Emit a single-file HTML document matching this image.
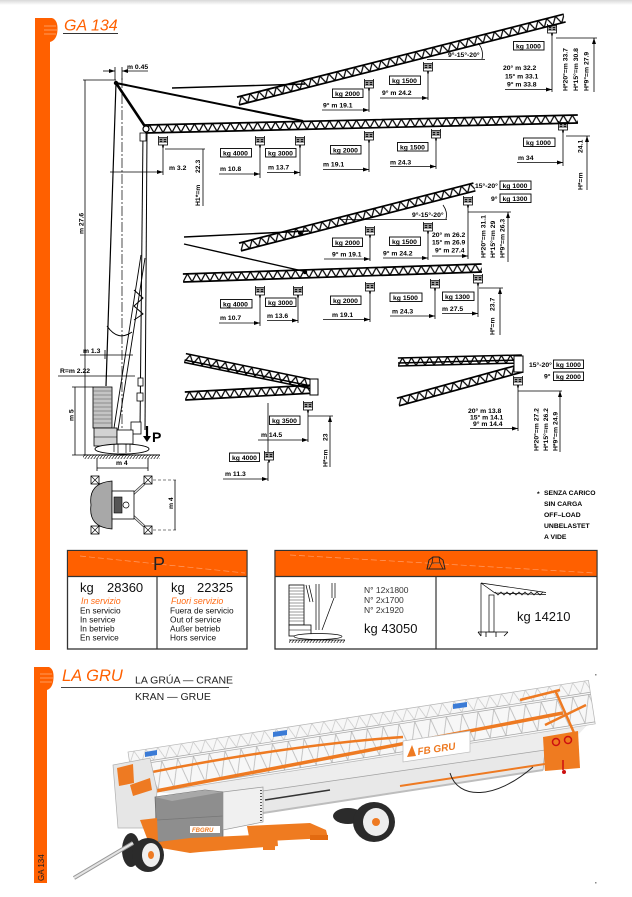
<!DOCTYPE html>
<html><head><meta charset="utf-8">
<style>
html,body{margin:0;padding:0;background:#fff;}
svg{display:block;font-family:"Liberation Sans",Arial,sans-serif;white-space:pre;}
.l{font-size:6.8px;font-weight:bold;fill:#000;}
.d{stroke:#000;stroke-width:0.8;fill:none;}
.t{font-size:8.3px;fill:#111;}
</style></head><body>
<svg width="632" height="897" viewBox="0 0 632 897" xmlns="http://www.w3.org/2000/svg" xml:space="preserve">
<defs>
 <linearGradient id="tg" x1="0" y1="0" x2="0" y2="1"><stop offset="0" stop-color="#d8d8d8"/><stop offset="1" stop-color="#fff"/></linearGradient>
 <pattern id="zz" width="9" height="8" y="-4" patternUnits="userSpaceOnUse"><path d="M0,8 L4.5,0 L9,8" fill="none" stroke="#000" stroke-width="1.25"/></pattern>
 <pattern id="lat1" width="12" height="12" patternUnits="userSpaceOnUse"><path d="M0,12 L6,0 L12,12" stroke="#c4c4c4" stroke-width="0.7" fill="none"/></pattern>
 <pattern id="lat" width="16" height="28" y="14" patternUnits="userSpaceOnUse"><path d="M0,0 L8,28 L16,0" stroke="#b8b8b8" stroke-width="0.8" fill="none"/></pattern>
 <pattern id="hatch" width="3" height="4" patternUnits="userSpaceOnUse"><path d="M0,4 L3,0" stroke="#000" stroke-width="0.6"/></pattern>
 <marker id="ar" viewBox="0 0 6 4" refX="6" refY="2" markerWidth="6" markerHeight="4" orient="auto" markerUnits="userSpaceOnUse"><path d="M0,0 L6,2 L0,4 Z" fill="#000"/></marker>
 <g id="hk" stroke="#000" stroke-width="0.8" fill="none">
  <path d="M-4.5,0V3M4.5,0V3M-4.5,1.5H4.5"/>
  <rect x="-4.5" y="3" width="9" height="6" fill="#fff"/>
  <path d="M-4.5,6H4.5"/>
  <circle cx="-2" cy="4.5" r="1"/><circle cx="2" cy="4.5" r="1"/>
  <path d="M0,9V11.5" stroke-width="1.6"/>
 </g>
</defs>

<!-- top shadow -->
<rect x="0" y="0" width="632" height="5" fill="url(#tg)"/>

<!-- Orange side bar 1 -->
<rect x="35" y="18" width="15" height="632" fill="#ff6000"/>
<path d="M50,18 L52,18 Q58,20 57.5,30 Q57,40 50,42 Z" fill="#ff6000"/>
<path d="M44,26 H56 M44,30 H57 M44,34 H56" stroke="#ff9a5a" stroke-width="1"/>
<text x="64" y="30.5" font-size="16" font-style="italic" fill="#ff6000">GA 134</text>
<line x1="63" y1="33.5" x2="118" y2="33.5" stroke="#333" stroke-width="1"/>

<!-- ================= DIAGRAM 1 ================= -->
<line x1="116" y1="83" x2="106" y2="386" stroke="#000" stroke-width="1.2"/>
<line x1="122" y1="78" x2="122" y2="456" stroke="#000" stroke-width="0.7" stroke-dasharray="10,2,2,2"/>
<line x1="143" y1="133" x2="140" y2="430" stroke="#000" stroke-width="1"/>
<line x1="147" y1="133" x2="145" y2="430" stroke="#000" stroke-width="1"/>
<line x1="141" y1="255" x2="114" y2="428" stroke="#000" stroke-width="0.9"/>
<line x1="145" y1="258" x2="118" y2="430" stroke="#000" stroke-width="0.9"/>
<path d="M107,326 Q118,342 132,332" stroke="#000" stroke-width="1" fill="none"/>
<path d="M134,290 L143,298 L134,306 L143,314 L134,320" stroke="#000" stroke-width="1" fill="none"/>
<rect x="138" y="378" width="5" height="8" fill="#fff" stroke="#000" stroke-width="0.8"/>
<rect x="137" y="393" width="6" height="8" fill="#fff" stroke="#000" stroke-width="0.8"/>
<rect x="131" y="422" width="10" height="12" fill="#fff" stroke="#000" stroke-width="0.8"/>
<rect x="93" y="387" width="19" height="41" fill="#c4c4c4" stroke="#000" stroke-width="0.8"/>
<path d="M93,391H112M93,395H112M93,399H112M93,403H112M93,407H112M93,411H112M93,415H112M93,419H112M93,423H112" stroke="#555" stroke-width="0.6"/>
<rect x="94" y="428" width="23" height="18" fill="#d2d2d2" stroke="#000" stroke-width="0.8"/>
<line x1="94" y1="437" x2="117" y2="437" stroke="#000" stroke-width="0.6"/>
<rect x="117" y="430" width="16" height="14" fill="#fff" stroke="#000" stroke-width="0.8"/>
<ellipse cx="122" cy="449" rx="27" ry="5" fill="#fff" stroke="#000" stroke-width="0.9"/>
<path d="M114,444V452M118,444V453M126,444V453M130,444V452" stroke="#000" stroke-width="0.7"/>
<rect x="83" y="455" width="77" height="4" fill="url(#hatch)"/>
<line x1="83" y1="455" x2="160" y2="455" stroke="#000" stroke-width="1"/>
<path d="M147,426V437" stroke="#000" stroke-width="2.2"/>
<path d="M143,436 L147,442 L151,436 Z" fill="#000"/>
<text x="152" y="442" font-size="14" font-weight="bold" fill="#000">P</text>

<path d="M115,67V80M122,67V80" class="d"/>
<line x1="103" y1="71" x2="115" y2="71" class="d" marker-end="url(#ar)"/>
<line x1="148" y1="71" x2="122" y2="71" class="d" marker-end="url(#ar)"/>
<text class="l" x="127" y="69">m 0.45</text>
<line x1="83" y1="80" x2="116" y2="80" class="d"/>
<line x1="85" y1="80" x2="85" y2="455" class="d"/>
<text class="l" transform="translate(83.5,234) rotate(-90)">m 27.6</text>
<path d="M105,350V359" class="d"/>
<line x1="80" y1="355" x2="133" y2="355" class="d"/>
<text class="l" x="83" y="353">m 1.3</text>
<line x1="58" y1="376" x2="135" y2="376" class="d"/>
<text class="l" x="60" y="373">R=m  2.22</text>
<line x1="75" y1="387" x2="75" y2="455" class="d"/>
<path d="M72,387H93M72,455H83" class="d"/>
<text class="l" transform="translate(73.5,421) rotate(-90)">m 5</text>
<path d="M97,458V471M148,458V471" class="d"/>
<line x1="97" y1="468" x2="148" y2="468" class="d"/>
<text class="l" x="116" y="465">m 4</text>

<!-- plan view -->
<path d="M99,484 L112,492 M144,484 L132,495 M99,526 L112,520 M144,526 L132,515" stroke="#444" stroke-width="2.6"/>
<path d="M99,484 L112,492 M144,484 L132,495 M99,526 L112,520 M144,526 L132,515" stroke="#fff" stroke-width="1"/>
<path d="M112,481 Q88,483 91,505 Q88,527 112,529 Z" fill="#a8a8a8" stroke="#000" stroke-width="0.8"/>
<rect x="112" y="491" width="22" height="28" fill="#fff" stroke="#000" stroke-width="0.8"/>
<rect x="114" y="497" width="8" height="16" fill="#555" stroke="#000" stroke-width="0.6"/>
<circle cx="126" cy="505" r="3" fill="none" stroke="#000" stroke-width="0.7"/>
<g fill="#fff" stroke="#000" stroke-width="0.8">
 <rect x="91" y="476" width="8" height="8"/><rect x="144" y="476" width="8" height="8"/>
 <rect x="91" y="526" width="8" height="8"/><rect x="144" y="526" width="8" height="8"/>
</g>
<path d="M91,476l8,8m0,-8l-8,8M144,476l8,8m0,-8l-8,8M91,526l8,8m0,-8l-8,8M144,526l8,8m0,-8l-8,8" stroke="#000" stroke-width="0.6"/>
<path d="M153,480H178M153,530H178" stroke="#000" stroke-width="0.6" stroke-dasharray="3,2"/>
<line x1="175" y1="480" x2="175" y2="530" class="d"/>
<text class="l" transform="translate(173,509) rotate(-90)">m 4</text>

<!-- booms diagram 1 -->
<g transform="translate(145,129) rotate(-1.32)"><rect x="0" y="-4" width="433" height="8" fill="url(#zz)"/><path d="M0,-4H433M0,4H433" stroke="#000" stroke-width="1.7"/></g>
<g transform="translate(238,101) rotate(-14.24)"><rect x="0" y="-4" width="337" height="8" fill="url(#zz)"/><path d="M0,-4H337M0,4H337" stroke="#000" stroke-width="1.7"/></g>
<line x1="116" y1="83" x2="303" y2="121" stroke="#000" stroke-width="2"/>
<line x1="172" y1="88" x2="305" y2="84" stroke="#000" stroke-width="1.4"/>
<line x1="116" y1="83" x2="146" y2="128" stroke="#000" stroke-width="2.6"/>
<circle cx="116" cy="83" r="2.2" fill="#000"/>
<circle cx="146" cy="129" r="3" fill="#fff" stroke="#000" stroke-width="1.2"/>
<rect x="140" y="133" width="6" height="8" fill="#fff" stroke="#000" stroke-width="0.8"/>

<use href="#hk" x="163" y="136"/><use href="#hk" x="260" y="136"/><use href="#hk" x="300" y="136"/>
<use href="#hk" x="369" y="131"/><use href="#hk" x="436" y="129"/><use href="#hk" x="563" y="121"/>
<path d="M163,147V175M260,147V178M300,147V176M369,142V172M436,140V169M563,132V166" class="d"/>
<line x1="110" y1="172" x2="163" y2="172" class="d" marker-end="url(#ar)"/>
<line x1="219" y1="174" x2="260" y2="174" class="d" marker-end="url(#ar)"/>
<line x1="267" y1="172.5" x2="300" y2="172.5" class="d" marker-end="url(#ar)"/>
<line x1="323" y1="169.5" x2="369" y2="169.5" class="d" marker-end="url(#ar)"/>
<line x1="390" y1="166.5" x2="436" y2="166.5" class="d" marker-end="url(#ar)"/>
<line x1="517" y1="162.5" x2="563" y2="162.5" class="d" marker-end="url(#ar)"/>
<text class="l" x="169" y="170">m 3.2</text>
<text class="l" x="220" y="171">m  10.8</text>
<text class="l" x="268" y="169.5">m  13.7</text>
<text class="l" x="323" y="166.5">m  19.1</text>
<text class="l" x="390" y="164.5">m  24.3</text>
<text class="l" x="518" y="160">m  34</text>
<g fill="#fff" stroke="#000" stroke-width="0.9">
 <rect x="220.5" y="148.5" width="31" height="8.5"/><rect x="265.5" y="148.5" width="30.5" height="8.5"/>
 <rect x="330.5" y="145.5" width="30.5" height="8.5"/><rect x="397.5" y="142.5" width="30.5" height="8.5"/>
 <rect x="523.5" y="138" width="31.5" height="8.5"/>
</g>
<text class="l" x="223" y="155.3">kg  4000</text>
<text class="l" x="268" y="155.3">kg  3000</text>
<text class="l" x="333" y="152.3">kg  2000</text>
<text class="l" x="400" y="149.3">kg  1500</text>
<text class="l" x="526" y="144.8">kg  1000</text>
<path d="M165,149H205M203,149V206" class="d"/>
<text class="l" transform="translate(200,206) rotate(-90)">H1*=m</text>
<text class="l" transform="translate(200,173) rotate(-90)">22.3</text>
<path d="M566,136H590" class="d"/>
<line x1="587" y1="190" x2="587" y2="136" class="d" marker-end="url(#ar)"/>
<text class="l" transform="translate(582.5,190) rotate(-90)">H*=m</text>
<text class="l" transform="translate(582.5,153) rotate(-90)">24.1</text>

<!-- luffed D1 labels -->
<use href="#hk" x="369" y="79"/><use href="#hk" x="428" y="62"/><use href="#hk" x="552" y="24"/>
<path d="M369,90V112M428,73V100M552,35V92" class="d"/>
<line x1="322" y1="110" x2="369" y2="110" class="d" marker-end="url(#ar)"/>
<line x1="380" y1="98" x2="428" y2="98" class="d" marker-end="url(#ar)"/>
<line x1="505" y1="89.5" x2="552" y2="89.5" class="d" marker-end="url(#ar)"/>
<path d="M427,59.5H485" class="d"/>
<path d="M478,43 Q484,50 482,59" class="d"/>
<text class="l" x="448" y="57">9°-15°-20°</text>
<g fill="#fff" stroke="#000" stroke-width="0.9">
 <rect x="513.5" y="41.5" width="30.5" height="8.5"/><rect x="389.5" y="76" width="31" height="8.5"/><rect x="332.5" y="89" width="30.5" height="8.5"/>
</g>
<text class="l" x="516" y="48.3">kg  1000</text>
<text class="l" x="392" y="82.8">kg  1500</text>
<text class="l" x="335" y="95.8">kg  2000</text>
<text class="l" x="382" y="95">9°  m  24.2</text>
<text class="l" x="323" y="107.5">9°  m  19.1</text>
<text class="l" x="503" y="70">20°  m  32.2</text>
<text class="l" x="505" y="78.5">15°  m  33.1</text>
<text class="l" x="507" y="86.5">9°  m  33.8</text>
<text class="l" transform="translate(567.5,91) rotate(-90)">H*20°=m  33.7</text>
<text class="l" transform="translate(578,91) rotate(-90)">H*15°=m  30.8</text>
<text class="l" transform="translate(588.5,91) rotate(-90)">H*9°=m   27.9</text>
<path d="M556,38H597" class="d"/>
<line x1="594" y1="92" x2="594" y2="38" class="d" marker-end="url(#ar)"/>

<!-- ================= DIAGRAM 2 ================= -->
<g transform="translate(240,247) rotate(-14.38)"><rect x="0" y="-4" width="242" height="8" fill="url(#zz)"/><path d="M0,-4H242M0,4H242" stroke="#000" stroke-width="1.7"/></g>
<g transform="translate(183,278) rotate(-1.92)"><rect x="0" y="-4" width="299" height="8" fill="url(#zz)"/><path d="M0,-4H299M0,4H299" stroke="#000" stroke-width="1.7"/></g>
<line x1="184" y1="237" x2="308" y2="231" stroke="#000" stroke-width="1.4"/>
<line x1="184" y1="244" x2="307" y2="272" stroke="#000" stroke-width="1.4"/>
<circle cx="300" cy="233" r="2" fill="#000"/><circle cx="305" cy="272" r="2.2" fill="#000"/>

<use href="#hk" x="370" y="226"/><use href="#hk" x="428" y="222"/><use href="#hk" x="468" y="196"/>
<path d="M370,237V261M428,233V260M468,207V259" class="d"/>
<line x1="324" y1="259" x2="370" y2="259" class="d" marker-end="url(#ar)"/>
<line x1="383" y1="258" x2="428" y2="258" class="d" marker-end="url(#ar)"/>
<line x1="432" y1="256" x2="468" y2="256" class="d" marker-end="url(#ar)"/>
<path d="M340,219.5H447" class="d"/>
<path d="M443,205 Q448,212 446,219" class="d"/>
<text class="l" x="412" y="217">9°-15°-20°</text>
<text class="l" x="475" y="188">15°-20°</text>
<text class="l" x="491" y="201">9°</text>
<g fill="#fff" stroke="#000" stroke-width="0.9">
 <rect x="500" y="181" width="31" height="8.5"/><rect x="500" y="194" width="31" height="8.5"/>
 <rect x="332.5" y="238" width="30" height="8.5"/><rect x="389.5" y="237" width="31" height="8.5"/>
</g>
<text class="l" x="502.5" y="187.8">kg  1000</text>
<text class="l" x="502.5" y="200.8">kg  1300</text>
<text class="l" x="335" y="244.8">kg  2000</text>
<text class="l" x="392" y="243.8">kg  1500</text>
<text class="l" x="332" y="256.5">9°  m  19.1</text>
<text class="l" x="383" y="255.5">9°  m  24.2</text>
<text class="l" x="432" y="237">20°  m  26.2</text>
<text class="l" x="432" y="244.5">15°  m  26.9</text>
<text class="l" x="435" y="252.5">9°  m  27.4</text>
<path d="M468,212H511" class="d"/>
<line x1="508" y1="262" x2="508" y2="212" class="d" marker-end="url(#ar)"/>
<text class="l" transform="translate(485.5,258) rotate(-90)">H*20°=m  31.1</text>
<text class="l" transform="translate(495,258) rotate(-90)">H*15°=m  29</text>
<text class="l" transform="translate(504.5,258) rotate(-90)">H*9°=m   26.3</text>

<use href="#hk" x="260" y="286"/><use href="#hk" x="298" y="286"/><use href="#hk" x="370" y="282"/>
<use href="#hk" x="435" y="279"/><use href="#hk" x="478" y="274"/>
<path d="M260,297V326M298,297V323M370,293V322M435,290V319M478,285V317" class="d"/>
<line x1="219" y1="323" x2="260" y2="323" class="d" marker-end="url(#ar)"/>
<line x1="267" y1="320.5" x2="298" y2="320.5" class="d" marker-end="url(#ar)"/>
<line x1="323" y1="319.5" x2="370" y2="319.5" class="d" marker-end="url(#ar)"/>
<line x1="390" y1="316" x2="435" y2="316" class="d" marker-end="url(#ar)"/>
<line x1="442" y1="313.5" x2="478" y2="313.5" class="d" marker-end="url(#ar)"/>
<g fill="#fff" stroke="#000" stroke-width="0.9">
 <rect x="220.5" y="299.5" width="31.5" height="8.5"/><rect x="265.5" y="298" width="30.5" height="8.5"/>
 <rect x="330.5" y="296" width="30.5" height="8.5"/><rect x="390" y="293" width="32" height="8.5"/>
 <rect x="442.5" y="292" width="31.5" height="8.5"/>
</g>
<text class="l" x="223" y="306.3">kg  4000</text>
<text class="l" x="268" y="304.8">kg  3000</text>
<text class="l" x="333" y="302.8">kg  2000</text>
<text class="l" x="393" y="299.8">kg  1500</text>
<text class="l" x="445" y="298.8">kg  1300</text>
<text class="l" x="220" y="320">m  10.7</text>
<text class="l" x="267" y="318">m  13.6</text>
<text class="l" x="332" y="317">m  19.1</text>
<text class="l" x="392" y="313.5">m  24.3</text>
<text class="l" x="442" y="311">m  27.5</text>
<path d="M479,288H503" class="d"/>
<line x1="500" y1="335" x2="500" y2="288" class="d" marker-end="url(#ar)"/>
<text class="l" transform="translate(494.5,335) rotate(-90)">H*=m</text>
<text class="l" transform="translate(494.5,311) rotate(-90)">23.7</text>

<!-- ================= DIAGRAM 3 ================= -->
<g transform="translate(185,358) rotate(11.65)"><rect x="0" y="-4.5" width="134" height="9" fill="url(#zz)"/><path d="M0,-4.5H134M0,4.5H134M0,2H134" stroke="#000" stroke-width="1.5"/></g>
<g transform="translate(185,396) rotate(-3.06)"><rect x="0" y="-4" width="131" height="8" fill="url(#zz)"/><path d="M0,-4H131M0,4H131" stroke="#000" stroke-width="1.7"/></g>
<rect x="310" y="379" width="8" height="16" fill="#fff" stroke="#000" stroke-width="1"/>
<use href="#hk" x="308" y="401"/>
<path d="M308,412V442M308,416H333M268,403V452M268,462V481" class="d"/>
<line x1="330" y1="467" x2="330" y2="416" class="d" marker-end="url(#ar)"/>
<text class="l" transform="translate(327.5,467) rotate(-90)">H*=m</text>
<text class="l" transform="translate(327.5,441) rotate(-90)">23</text>
<rect x="269.5" y="416" width="30.5" height="8.5" fill="#fff" stroke="#000" stroke-width="0.9"/>
<text class="l" x="272" y="422.8">kg  3500</text>
<line x1="258" y1="440" x2="308" y2="440" class="d" marker-end="url(#ar)"/>
<text class="l" x="261" y="437">m  14.5</text>
<use href="#hk" x="269" y="451"/>
<rect x="229.5" y="453" width="30" height="8.5" fill="#fff" stroke="#000" stroke-width="0.9"/>
<text class="l" x="232" y="459.8">kg  4000</text>
<line x1="223" y1="479" x2="268" y2="479" class="d" marker-end="url(#ar)"/>
<text class="l" x="225" y="476">m  11.3</text>

<g transform="translate(398,362) rotate(-1.39)"><rect x="0" y="-4" width="124" height="8" fill="url(#zz)"/><path d="M0,-4H124M0,4H124M0,1H124" stroke="#000" stroke-width="1.5"/></g>
<g transform="translate(398,402) rotate(-15.33)"><rect x="0" y="-4" width="129" height="8" fill="url(#zz)"/><path d="M0,-4H129M0,4H129" stroke="#000" stroke-width="1.7"/></g>
<rect x="514" y="356" width="9" height="16" fill="#fff" stroke="#000" stroke-width="1"/>
<use href="#hk" x="518" y="376"/>
<text class="l" x="529" y="367">15°-20°</text>
<text class="l" x="544" y="378.5">9°</text>
<rect x="553.5" y="360" width="30" height="8.5" fill="#fff" stroke="#000" stroke-width="0.9"/>
<rect x="553.5" y="372" width="30" height="8.5" fill="#fff" stroke="#000" stroke-width="0.9"/>
<text class="l" x="556" y="366.8">kg  1000</text>
<text class="l" x="556" y="378.8">kg  2000</text>
<path d="M518,387V431M518,391H562" class="d"/>
<line x1="470" y1="428.5" x2="518" y2="428.5" class="d" marker-end="url(#ar)"/>
<text class="l" x="468" y="413">20°  m  13.8</text>
<text class="l" x="470" y="419.5">15°  m  14.1</text>
<text class="l" x="473" y="426">9°  m  14.4</text>
<line x1="560" y1="452" x2="560" y2="391" class="d" marker-end="url(#ar)"/>
<text class="l" transform="translate(538.5,451) rotate(-90)">H*20°=m  27.2</text>
<text class="l" transform="translate(548,451) rotate(-90)">H*15°=m  26.2</text>
<text class="l" transform="translate(557.5,451) rotate(-90)">H*9°=m   24.9</text>

<text class="l" x="537" y="496">*</text>
<text class="l" x="544" y="495">SENZA  CARICO</text>
<text class="l" x="544" y="506">SIN  CARGA</text>
<text class="l" x="544" y="517">OFF–LOAD</text>
<text class="l" x="544" y="528">UNBELASTET</text>
<text class="l" x="544" y="539">A  VIDE</text>

<!-- ================= TABLES ================= -->
<rect x="67.5" y="550.5" width="179.5" height="98.5" fill="#fff" stroke="#333" stroke-width="1.3"/>
<rect x="68" y="551" width="178.5" height="25" fill="#ff6000"/>
<line x1="80" y1="556" x2="245" y2="573" stroke="#ff9c66" stroke-width="0.7" stroke-dasharray="6,3"/>
<line x1="67.5" y1="576.5" x2="247" y2="576.5" stroke="#333" stroke-width="1.2"/>
<line x1="157" y1="576.5" x2="157" y2="649" stroke="#333" stroke-width="1.2"/>
<text x="159" y="570" font-size="18" text-anchor="middle" fill="#222">P</text>
<text x="80" y="592" font-size="13" fill="#111">kg</text><text x="107" y="592" font-size="13" fill="#111">28360</text>
<text x="81" y="604" font-size="8.8" font-style="italic" fill="#ff6a13">In servizio</text>
<text class="t" x="80" y="613.5">En servicio</text>
<text class="t" x="80" y="622.5">In service</text>
<text class="t" x="80" y="631.5">In betrieb</text>
<text class="t" x="80" y="640.5">En service</text>
<text x="171" y="592" font-size="13" fill="#111">kg</text><text x="197" y="592" font-size="13" fill="#111">22325</text>
<text x="171" y="604" font-size="8.8" font-style="italic" fill="#ff6a13">Fuori servizio</text>
<text class="t" x="170" y="613.5">Fuera de servicio</text>
<text class="t" x="170" y="622.5">Out of service</text>
<text class="t" x="170" y="631.5">Außer betrieb</text>
<text class="t" x="170" y="640.5">Hors service</text>

<rect x="275" y="550.5" width="322" height="98.5" fill="#fff" stroke="#333" stroke-width="1.3"/>
<rect x="275.5" y="551" width="321" height="25" fill="#ff6000"/>
<line x1="290" y1="555" x2="595" y2="573" stroke="#ff9c66" stroke-width="0.7" stroke-dasharray="6,3"/>
<line x1="275" y1="576.5" x2="597" y2="576.5" stroke="#333" stroke-width="1.2"/>
<line x1="436" y1="576.5" x2="436" y2="649" stroke="#333" stroke-width="1.2"/>
<path d="M427,569 L429,560 L433,557 L439,557 L443,560 L445,569 Z" fill="none" stroke="#222" stroke-width="1"/>
<path d="M433,557 L432,563 L440,563 L439,557 M432,563 L429,569 M440,563 L443,569" fill="none" stroke="#222" stroke-width="0.8"/>
<rect x="289" y="585" width="15" height="40" fill="#fff" stroke="#000" stroke-width="0.8"/>
<path d="M289,588H304M289,591H304M289,594H304M289,597H304M289,600H304M289,603H304M289,606H304M289,609H304M289,612H304M289,615H304M289,618H304M289,621H304" stroke="#333" stroke-width="0.5"/>
<rect x="289" y="625" width="22" height="11" fill="#fff" stroke="#000" stroke-width="0.8"/>
<line x1="289" y1="630" x2="311" y2="630" stroke="#000" stroke-width="0.5"/>
<path d="M306,585L310,602M309,585L313,602M316,584V630M319,584V630M332,583V598M335,583V598M334,598L322,630" stroke="#000" stroke-width="0.7" fill="none"/>
<ellipse cx="318" cy="636.5" rx="24" ry="3" fill="#fff" stroke="#000" stroke-width="0.7"/>
<rect x="289" y="640" width="56" height="3" fill="url(#hatch)"/>
<line x1="289" y1="640" x2="345" y2="640" stroke="#000" stroke-width="0.8"/>
<text x="364" y="593" font-size="8.5" fill="#333">N° 12x1800</text>
<text x="364" y="603" font-size="8.5" fill="#333">N° 2x1700</text>
<text x="364" y="613" font-size="8.5" fill="#333">N° 2x1920</text>
<text x="364" y="633" font-size="13" fill="#111">kg 43050</text>
<path d="M481,583V636M481,583L495,593L546,594.5M481,583L546,592.5" stroke="#000" stroke-width="0.7" fill="none"/>
<path d="M495,592 l3,3 l3,-3 l3,3 l3,-3 l3,3 l3,-3 l3,3 l3,-3 l3,3 l3,-3 l3,3 l3,-3 l3,3 l3,-3 l3,3 l3,-3" stroke="#000" stroke-width="0.7" fill="none"/>
<rect x="489" y="595" width="5" height="37" fill="#fff" stroke="#000" stroke-width="0.7"/>
<path d="M478,632H508M478,632L481,636M508,632L504,636M486,632V637M496,632V637" stroke="#000" stroke-width="0.8" fill="none"/>
<text x="517" y="621" font-size="13" fill="#111">kg 14210</text>

<!-- ================= LA GRU SECTION ================= -->
<rect x="34" y="667" width="13" height="216" fill="#ff6000"/>
<path d="M47,667 L49,667 Q54,669 53.5,678 Q53,688 47,690 Z" fill="#ff6000"/>
<path d="M40,674 H52 M40,678 H53 M40,682 H52" stroke="#ff9a5a" stroke-width="1"/>
<text transform="translate(44,881) rotate(-90)" font-size="8" fill="#222">GA 134</text>
<text x="62" y="681" font-size="16.5" font-style="italic" fill="#ff6000">LA GRU</text>
<line x1="61" y1="687.5" x2="229" y2="687.5" stroke="#444" stroke-width="1"/>
<text x="135" y="683.5" font-size="10.5" fill="#222">LA GRÚA  —  CRANE</text>
<text x="135" y="700" font-size="10.5" fill="#222">KRAN  —  GRUE</text>
<rect x="595" y="674" width="1.5" height="1.5" fill="#888"/>
<rect x="595" y="882" width="1.5" height="1.5" fill="#888"/>

<!-- crane render -->
<polygon points="132,790 592,720 545,770 263,813 221,798" fill="#ededed"/>
<g transform="translate(128,752) rotate(-8.84)">
 <rect x="0" y="0" width="466" height="44" fill="#f7f7f7" stroke="#b5b5b5" stroke-width="0.7"/>
 <rect x="0" y="0" width="466" height="12" fill="url(#lat1)"/>
 <rect x="0" y="14" width="466" height="28" fill="url(#lat)"/>
 <path d="M0,12H466M0,14H466M0,42H466" stroke="#a5a5a5" stroke-width="0.7"/>
</g>
<path d="M135,795 L563,713" stroke="#ee7a22" stroke-width="3.5"/>
<path d="M147,773 Q290,745 403,737" stroke="#ee7a22" stroke-width="2.5" fill="none"/>
<path d="M263,803 L403,777" stroke="#ee7a22" stroke-width="2.5"/>
<path d="M520,700 L560,690 M545,725 L586,705 M555,690 L575,735" stroke="#ee7a22" stroke-width="2.5"/>
<polygon points="113,765 150,758 157,790 155,828 118,828" fill="#e6e6e6" stroke="#b0b0b0" stroke-width="0.7"/>
<polygon points="117,768 133,764 134,783 119,786" fill="#ee7a22"/>
<polygon points="130,785 150,778 152,790 133,796" fill="#ee7a22"/>
<polygon points="221,797 545,750 543,770 263,813 225,822" fill="#e8e8e8" stroke="#a0a0a0" stroke-width="0.7"/>
<path d="M263,813 L543,770" stroke="#bdbdbd" stroke-width="2"/>
<path d="M400,786 L545,764" stroke="#ee7a22" stroke-width="2"/>
<path d="M265,800 L330,790" stroke="#333" stroke-width="1.5"/>
<g fill="#3b7bd6"><polygon points="145,752 157,750 157,755 145,757"/><polygon points="273,732 287,730 287,735 273,737"/><polygon points="453,704 467,702 467,707 453,709"/></g>
<polygon points="403,741 470,731 470,752 403,762" fill="#fff" stroke="#bbb" stroke-width="0.7"/>
<polygon points="407,757 412,745 416,756" fill="#ee7a22"/>
<text transform="translate(418,755) rotate(-8.5)" font-size="10" font-weight="bold" font-style="italic" fill="#ee7a22">FB GRU</text>
<polygon points="155,797 205,790 223,792 223,840 157,842" fill="#8e8e8e" stroke="#666" stroke-width="0.7"/>
<polygon points="155,797 205,790 223,792 172,801" fill="#a8a8a8"/>
<line x1="157" y1="820" x2="223" y2="816" stroke="#777" stroke-width="0.8"/>
<polygon points="223,792 263,787 263,822 223,830" fill="#f0f0f0" stroke="#999" stroke-width="0.7"/>
<path d="M261,790V821" stroke="#222" stroke-width="1.5" stroke-dasharray="1,2"/>
<rect x="190" y="826" width="30" height="7" fill="#fff"/>
<text x="192" y="832" font-size="6" font-weight="bold" font-style="italic" fill="#ee7a22">FBGRU</text>
<polygon points="140,820 157,818 158,842 190,838 277,834 278,846 200,852 190,853 150,846" fill="#ef7b20"/>
<polygon points="247,826 310,823 326,830 328,838 250,842" fill="#ef7b20"/>
<rect x="310" y="835" width="18" height="5" fill="#e36a10"/>
<rect x="263" y="842" width="12" height="8" fill="#ef7b20"/>
<ellipse cx="348" cy="816" rx="15" ry="8" fill="#2b2b2b"/>
<ellipse cx="131" cy="850" rx="9" ry="17" fill="#2b2b2b"/>
<ellipse cx="148" cy="855" rx="16" ry="17" fill="#2b2b2b"/>
<ellipse cx="151" cy="855" rx="9" ry="12" fill="#eee"/>
<ellipse cx="151" cy="855" rx="3" ry="4" fill="#ee7a22"/>
<ellipse cx="374" cy="822" rx="21" ry="20" fill="#2b2b2b"/>
<ellipse cx="376" cy="822" rx="13" ry="14" fill="#eee"/>
<circle cx="376" cy="822" r="4" fill="#ee7a22"/>
<line x1="74" y1="878" x2="133" y2="843" stroke="#999" stroke-width="4"/>
<line x1="74" y1="878" x2="133" y2="843" stroke="#e4e4e4" stroke-width="2"/>
<polygon points="543,737 578,731 580,768 545,771" fill="#ef7b20"/>
<circle cx="556" cy="742" r="3.5" fill="none" stroke="#cc1010" stroke-width="1.5"/>
<circle cx="568" cy="740" r="3.5" fill="none" stroke="#cc1010" stroke-width="1.5"/>
<path d="M563,760 V770" stroke="#cc1010" stroke-width="1.5"/>
<circle cx="564" cy="772" r="2" fill="#cc1010"/>
<path d="M450,773 C458,800 495,800 533,767" stroke="#222" stroke-width="1" fill="none"/>
</svg>
</body></html>
